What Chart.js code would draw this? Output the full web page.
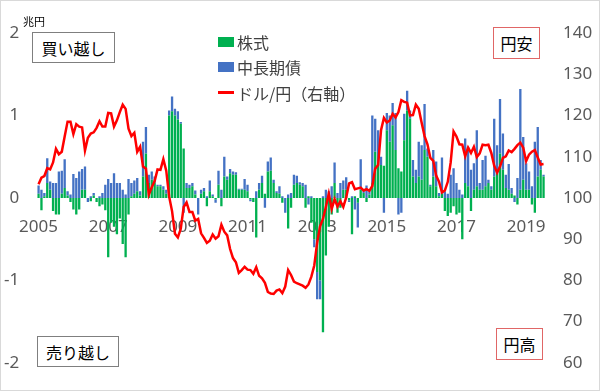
<!DOCTYPE html>
<html lang="ja">
<head>
<meta charset="utf-8">
<script src="https://cdn.jsdelivr.net/npm/chart.js@4.4.1/dist/chart.umd.min.js"></script>
<style>
  html, body { margin: 0; padding: 0; background: #fff; }
  #wrap { position: relative; width: 600px; height: 391px; font-family: "Noto Sans CJK JP", "Noto Sans", sans-serif; }
  #frame { position: absolute; left: 0; top: 0; width: 598px; height: 389px; border: 1px solid #d9d9d9; pointer-events: none; }
  .box { position: absolute; box-sizing: border-box; border: 1px solid #7f7f7f; background: #fff; font-size: 16px; color: #000;
         display: flex; align-items: center; justify-content: center; }
  .box.red { border-color: #e06666; }
  .unit { position: absolute; left: 23px; top: 13px; font-size: 11px; color: #000; }
  .legend { position: absolute; left: 218px; top: 29px; font-size: 16px; color: #404040; }
  .legend div { height: 25.5px; display: flex; align-items: center; }
  .legend i { display: inline-block; width: 16px; height: 10px; margin-right: 3px; }
  .legend i.ln { height: 3px; }
</style>
</head>
<body>
<div id="wrap">
  <canvas id="chart" width="600" height="391"></canvas>
  <div class="unit">兆円</div>
  <div class="box" style="left:32px;top:32px;width:83px;height:31px;">買い越し</div>
  <div class="box" style="left:37px;top:336px;width:82px;height:31px;">売り越し</div>
  <div class="box red" style="left:493px;top:27px;width:47px;height:32px;">円安</div>
  <div class="box red" style="left:496px;top:328px;width:47px;height:32px;">円高</div>
  <div class="legend" id="legend"></div>
  <div id="frame"></div>
</div>
<script>
const YEARS = [2005, 2006, 2007, 2008, 2009, 2010, 2011, 2012, 2013, 2014, 2015, 2016, 2017, 2018, 2019];
const YEAR_TICKS = ["2005", "2007", "2009", "2011", "2013", "2015", "2017", "2019"];
const SERIES_NAMES = ["株式", "中長期債", "ドル/円（右軸）"];

// 株式 (兆円), monthly, 2005/01 - 2019/07
const stocks = [
  0.05, -0.15, 0.02, 0.18, 0.10, -0.16, -0.20, -0.20, 0.05, 0.12, 0.03, -0.05,
  -0.14, -0.20, -0.14, 0.10, 0.10, 0.00, -0.04, 0.03, -0.05, -0.10, -0.08, -0.15,
  -0.72, -0.30, -0.35, -0.44, -0.25, -0.56, -0.72, -0.20, 0.02, 0.05, 0.08, 0.03,
  0.26, 0.54, 0.18, 0.22, 0.18, 0.14, 0.14, 0.10, 0.05, 1.00, 1.05, 1.00,
  0.95, 0.90, 0.60, 0.12, 0.12, 0.14, 0.04, 0.00, 0.05, 0.08, -0.10, 0.08,
  0.02, -0.02, 0.16, -0.10, 0.26, 0.22, 0.30, 0.28, 0.28, 0.10, 0.10, 0.10,
  0.08, -0.02, -0.05, -0.48, 0.10, 0.18, 0.05, 0.32, 0.33, 0.18, 0.06, 0.05,
  -0.06, 0.00, -0.37, -0.12, 0.16, 0.18, 0.16, 0.14, -0.12, 0.02, -0.30, -0.50,
  -0.90, -1.00, -1.63, -0.70, -0.35, -0.20, 0.18, -0.18, -0.12, 0.10, 0.10, -0.03,
  -0.44, 0.02, -0.06, 0.10, 0.06, -0.05, 0.04, 0.18, 0.56, 0.42, 0.40, 0.39,
  0.82, 0.68, 0.88, 0.58, 0.36, 0.32, 0.70, 1.06, 0.96, 0.26, 0.18, 0.26,
  0.22, 0.58, 0.50, 0.14, 0.26, 0.14, 0.02, 0.05, -0.16, -0.22, -0.18, -0.10,
  -0.20, -0.18, -0.50, 0.18, 0.14, -0.16, 0.10, 0.14, 0.10, 0.10, 0.14, 0.18,
  0.10, 0.26, 0.30, 0.54, 0.34, 0.12, 0.10, 0.05, 0.03, -0.08, 0.10, 0.22,
  0.10, 0.10, -0.08, -0.18, 0.26, 0.34, 0.26
];

// 中長期債 (兆円)
const bonds = [
  0.10, 0.10, 0.04, 0.30, 0.10, 0.18, 0.18, 0.32, 0.28, 0.35, 0.05, 0.04,
  0.29, 0.24, 0.32, 0.25, 0.28, -0.05, 0.02, 0.03, 0.00, 0.02, 0.06, 0.16,
  0.23, 0.18, 0.30, 0.18, 0.18, 0.10, 0.04, 0.23, 0.16, 0.16, 0.16, 0.05,
  0.42, 0.32, 0.10, 0.10, 0.08, 0.02, 0.02, 0.04, 0.05, 0.06, 0.18, 0.08,
  0.10, 0.02, -0.18, 0.06, 0.04, 0.04, 0.05, -0.20, 0.05, 0.04, 0.02, 0.13,
  0.02, -0.04, 0.17, 0.10, 0.24, 0.04, 0.05, 0.04, 0.03, 0.01, 0.01, 0.13,
  0.08, -0.02, 0.00, 0.08, 0.08, 0.09, -0.12, 0.12, 0.16, 0.04, 0.02, 0.09,
  0.02, -0.18, 0.04, 0.06, 0.12, 0.09, 0.03, 0.04, 0.16, -0.08, 0.02, -0.10,
  -0.33, -0.23, 0.02, 0.10, 0.08, 0.14, 0.25, 0.06, 0.18, 0.11, 0.15, -0.02,
  0.02, -0.14, -0.30, 0.37, 0.04, 0.15, 0.04, 0.82, 0.40, 0.40, 0.10, -0.18,
  0.21, 0.32, 0.27, 0.45, -0.20, -0.18, 0.32, 0.24, 0.10, 0.20, 0.16, 0.42,
  0.42, 0.56, 0.10, 0.02, 0.32, 0.30, 0.04, 0.44, 0.08, 0.05, 0.28, 0.36,
  0.18, 0.10, 0.04, 0.54, 0.48, 0.34, 0.32, 0.68, 0.08, 0.36, 0.37, 0.04,
  0.04, 0.70, 0.34, 0.66, 0.44, 0.16, 0.31, 0.07, -0.05, 0.24, 1.22, 0.52,
  0.32, 0.22, 0.14, 0.68, 0.60, 0.12, 0.02
];

// ドル/円 (右軸)
const usdjpy = [
  103.3, 104.9, 105.3, 107.2, 106.9, 108.6, 111.9, 110.6, 111.2, 114.9, 118.5, 118.5,
  115.5, 117.9, 117.3, 117.1, 111.5, 114.6, 115.6, 115.9, 117.0, 118.6, 117.3, 117.3,
  120.6, 120.5, 117.3, 118.8, 120.8, 122.6, 121.6, 116.8, 115.0, 115.8, 111.2, 112.4,
  107.6, 107.1, 100.8, 102.6, 104.1, 106.9, 106.8, 109.4, 106.6, 100.3, 96.8, 91.3,
  90.4, 92.5, 97.8, 98.9, 96.6, 96.6, 94.5, 94.9, 91.4, 90.3, 89.1, 89.6,
  91.1, 90.1, 90.7, 93.5, 91.8, 90.9, 87.6, 85.4, 84.4, 81.8, 82.5, 83.3,
  82.6, 82.5, 81.6, 83.2, 81.1, 80.5, 79.4, 77.2, 76.8, 76.7, 77.5, 77.8,
  76.9, 78.5, 82.5, 81.3, 79.7, 79.3, 79.0, 78.7, 78.2, 79.0, 80.9, 83.6,
  89.2, 93.1, 94.9, 97.8, 101.0, 97.3, 99.7, 97.9, 99.2, 97.8, 100.1, 103.5,
  103.8, 102.1, 102.3, 102.5, 101.8, 102.1, 101.7, 102.9, 107.1, 108.0, 116.4, 119.4,
  118.3, 118.8, 120.4, 119.5, 120.8, 123.7, 123.3, 123.1, 120.0, 120.1, 122.6, 121.6,
  118.2, 115.0, 113.0, 109.7, 109.0, 105.4, 103.9, 101.3, 101.8, 103.9, 108.6, 116.1,
  114.9, 113.0, 112.9, 110.1, 112.2, 110.9, 112.4, 109.9, 110.8, 112.9, 112.8, 112.9,
  110.9, 107.8, 106.1, 107.6, 109.7, 110.1, 111.5, 111.1, 111.9, 112.8, 113.4, 112.2,
  108.9, 110.5, 111.2, 111.6, 109.8, 108.1, 108.2
];

const GREEN = "#00b050";
const BLUE = "#4472c4";
const RED = "#ff0000";
const AXIS_TEXT = "#595959";

// one label per month, "YYYY/MM"
const months = [];
YEARS.forEach((year) => {
  for (let m = 1; m <= 12; m += 1) {
    if (months.length < stocks.length) months.push(`${year}/${String(m).padStart(2, "0")}`);
  }
});

const legendEl = document.getElementById("legend");
[GREEN, BLUE, RED].forEach((color, i) => {
  const row = document.createElement("div");
  const mark = document.createElement("i");
  if (i === 2) mark.className = "ln";
  mark.style.background = color;
  row.appendChild(mark);
  row.appendChild(document.createTextNode(SERIES_NAMES[i]));
  legendEl.appendChild(row);
});

const tickFont = { family: '"Noto Sans", "Noto Sans CJK JP", sans-serif', size: 17 };
const noGrid = { display: false, drawTicks: false };

new Chart(document.getElementById("chart"), {
  type: "bar",
  data: {
    labels: months,
    datasets: [
      {
        type: "line",
        label: SERIES_NAMES[2],
        data: usdjpy,
        yAxisID: "y1",
        borderColor: RED,
        borderWidth: 2.5,
        pointRadius: 0,
        tension: 0,
        order: 0,
      },
      {
        label: SERIES_NAMES[0],
        data: stocks,
        backgroundColor: GREEN,
        barPercentage: 0.8,
        categoryPercentage: 1,
        order: 1,
      },
      {
        label: SERIES_NAMES[1],
        data: bonds,
        backgroundColor: BLUE,
        barPercentage: 0.8,
        categoryPercentage: 1,
        order: 2,
      },
    ],
  },
  options: {
    responsive: false,
    animation: false,
    layout: { padding: { top: 33, bottom: 24, left: 0, right: 0 } },
    plugins: { legend: { display: false }, tooltip: { enabled: false } },
    scales: {
      x: {
        stacked: true,
        position: { y: 0 },
        grid: noGrid,
        border: { display: false },
        ticks: {
          autoSkip: false,
          maxRotation: 0,
          minRotation: 0,
          padding: 19,
          color: AXIS_TEXT,
          font: tickFont,
          callback(value, index) {
            const label = months[index];
            const year = label.slice(0, 4);
            return label.endsWith("/01") && YEAR_TICKS.includes(year) ? year : "";
          },
        },
      },
      y: {
        stacked: true,
        position: "left",
        min: -2,
        max: 2,
        grid: noGrid,
        border: { display: false },
        ticks: { stepSize: 1, padding: 18, color: AXIS_TEXT, font: tickFont },
        afterFit(scale) { scale.width = 36; },
      },
      y1: {
        position: "right",
        min: 60,
        max: 140,
        grid: noGrid,
        border: { display: false },
        ticks: { stepSize: 10, padding: 18, color: AXIS_TEXT, font: tickFont },
        afterFit(scale) { scale.width = 55; },
      },
    },
  },
});
</script>
</body>
</html>
